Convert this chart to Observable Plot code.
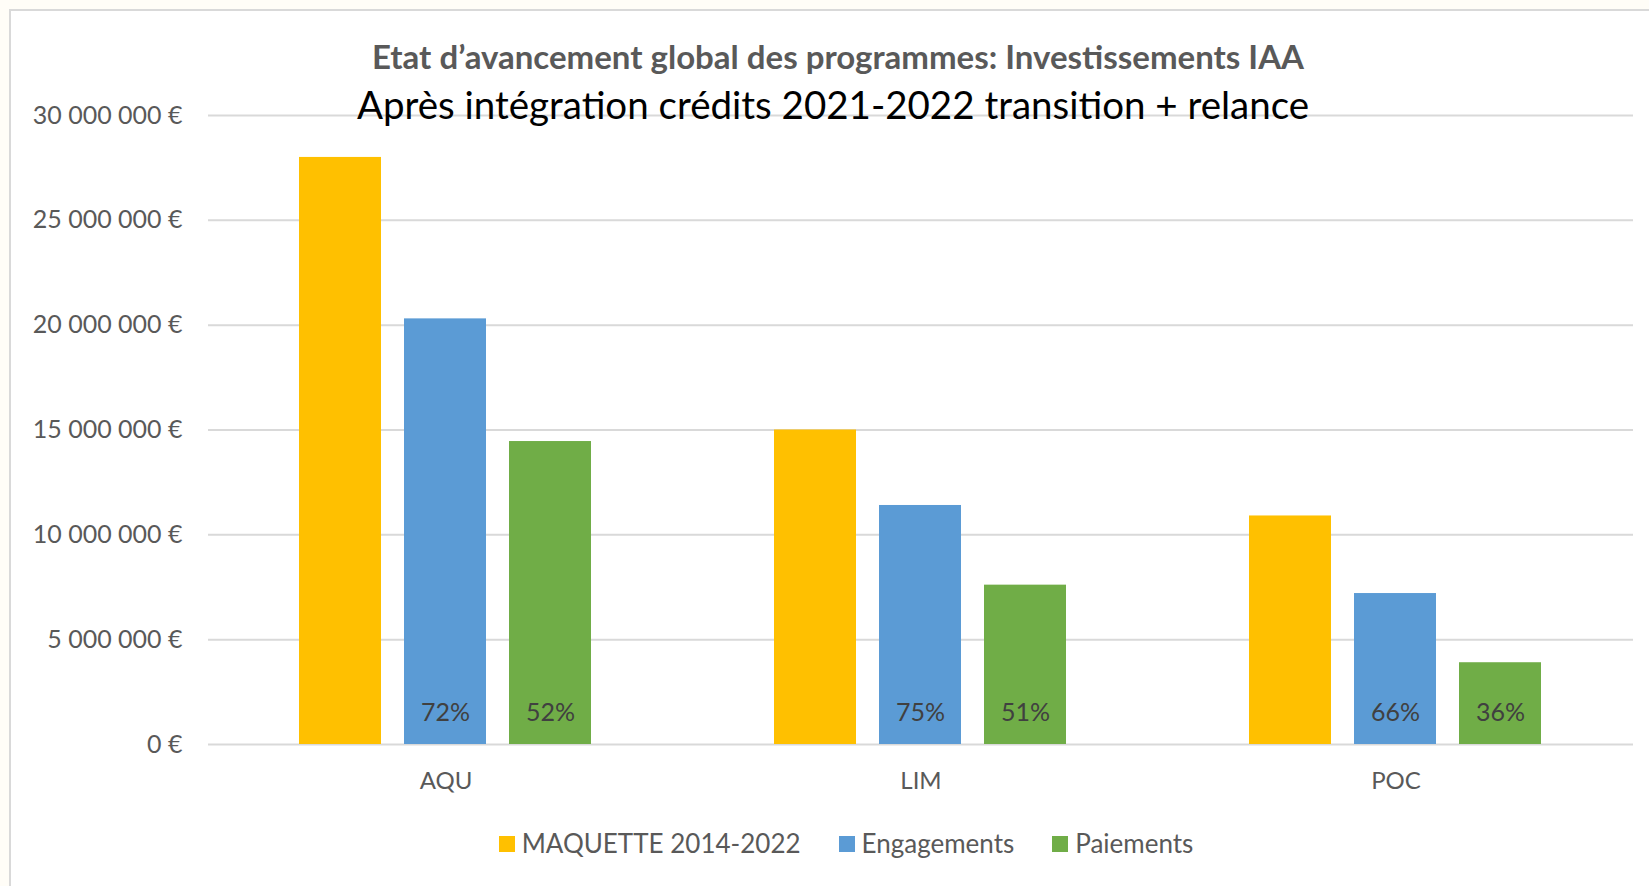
<!DOCTYPE html>
<html>
<head>
<meta charset="utf-8">
<script src="https://cdn.jsdelivr.net/npm/d3@7"></script>
<script src="https://cdn.jsdelivr.net/npm/@observablehq/plot@0.6"></script>
<style>
  html, body { margin: 0; padding: 0; width: 1649px; height: 886px; overflow: hidden; background: #fffdf7; font-family: Lato, "Open Sans", sans-serif; }
  #card { position: absolute; left: 9px; top: 9px; width: 1660px; height: 900px; background: #fff; border-left: 2px solid #d9d9d9; border-top: 2px solid #d9d9d9; }
  #chart { position: absolute; left: 0; top: 0; }
  #title { position: absolute; left: 0; width: 1676px; top: 36px; text-align: center; font-weight: bold; font-size: 33px; line-height: 40px; color: #595959; white-space: nowrap; }
  #subtitle { position: absolute; left: 0; width: 1666px; top: 81px; text-align: center; font-size: 38.5px; line-height: 46px; color: #000; white-space: nowrap; }
  #legend { position: absolute; left: 0; width: 1692px; top: 827px; text-align: center; font-size: 26px; color: #595959; white-space: nowrap; }
  #legend span.item { display: inline-block; margin: 0 19px; }
  #legend span.sw { display: inline-block; width: 16px; height: 16px; margin-right: 7px; vertical-align: 1px; }
</style>
</head>
<body>
<div id="card"></div>
<div id="chart"></div>
<div id="title">Etat d’avancement global des programmes: Investissements IAA</div>
<div id="subtitle">Après intégration crédits 2021-2022 transition + relance</div>
<div id="legend"></div>
<script>
// ---- data ----
const regions = ["AQU", "LIM", "POC"];
const series = ["MAQUETTE 2014-2022", "Engagements", "Paiements"];
const colors = ["#FFC000", "#5B9BD5", "#70AD47"];
const maquette = [28000000, 15000000, 10900000];
const engagements = [20300000, 11400000, 7200000];
const paiements = [14450000, 7600000, 3900000];
const engagementsPct = ["72%", "75%", "66%"];
const paiementsPct = ["52%", "51%", "36%"];
const yTicks = [0, 5000000, 10000000, 15000000, 20000000, 25000000, 30000000];

const data = [];
regions.forEach((r, i) => {
  data.push({region: r, series: series[0], value: maquette[i], pct: ""});
  data.push({region: r, series: series[1], value: engagements[i], pct: engagementsPct[i]});
  data.push({region: r, series: series[2], value: paiements[i], pct: paiementsPct[i]});
});

const fmt = d => d3.format(",")(d).replace(/,/g, " ") + " €";

const W = 1649, H = 800;
const chart = Plot.plot({
  width: W,
  height: H,
  marginLeft: 207,
  marginRight: 16,
  marginTop: 115,
  marginBottom: H - 744,
  style: { fontFamily: "Lato, 'Open Sans', sans-serif", fontSize: "22px", color: "#595959", background: "transparent", overflow: "visible" },
  fx: { domain: regions, padding: 0, label: null },
  x: { domain: series, paddingInner: 0.215, paddingOuter: 0.86, axis: null },
  y: { domain: [0, 30000000], label: null },
  color: { domain: series, range: colors },
  marks: [
    Plot.gridY(yTicks, { stroke: "#d9d9d9", strokeOpacity: 1, strokeWidth: 2 }),
    Plot.barY(data, { fx: "region", x: "series", y: "value", fill: "series" }),
    Plot.text(data.filter(d => d.pct), { fx: "region", x: "series", text: "pct", frameAnchor: "bottom", dy: -24, fill: "#404040", fontSize: 25 }),
    Plot.axisY(yTicks, { tickSize: 0, tickPadding: 26, tickFormat: fmt, fill: "#595959", fontSize: 25 }),
    Plot.axisFx({ anchor: "bottom", tickSize: 0, tickPadding: 27, fill: "#595959", fontSize: 24, label: null })
  ]
});
document.getElementById("chart").appendChild(chart);

const legend = document.getElementById("legend");
series.forEach((s, i) => {
  const item = document.createElement("span");
  item.className = "item";
  const sw = document.createElement("span");
  sw.className = "sw";
  sw.style.background = colors[i];
  item.appendChild(sw);
  item.appendChild(document.createTextNode(s));
  legend.appendChild(item);
});
</script>
</body>
</html>
